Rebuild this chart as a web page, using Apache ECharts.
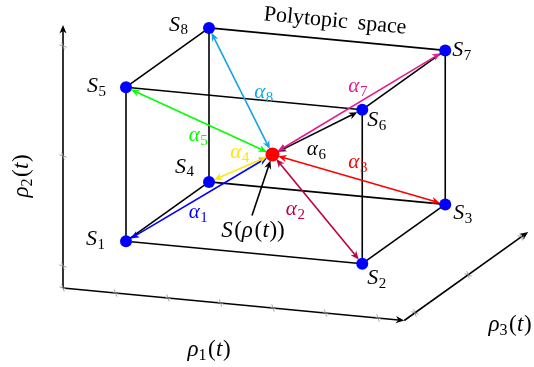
<!DOCTYPE html>
<html>
<head>
<meta charset="utf-8">
<script src="https://cdn.jsdelivr.net/npm/echarts@6/dist/echarts.min.js"></script>
<style>
  html, body { margin: 0; padding: 0; background: #ffffff; }
  #chart { width: 534px; height: 367px; }
</style>
</head>
<body>
<div id="chart"></div>
<script>
// ---- Polytope (box) in the scheduling-parameter space (rho1, rho2, rho3) ----
const vertexNames = ['1', '2', '3', '4', '5', '6', '7', '8'];
const vertices = [
  [1.2, 0.48, 0.00],  // S1
  [5.7, 0.48, 0.00],  // S2
  [5.7, 0.48, 1.56],  // S3
  [1.2, 0.48, 1.56],  // S4
  [1.2, 1.88, 0.00],  // S5
  [5.7, 1.88, 0.00],  // S6
  [5.7, 1.88, 1.56],  // S7
  [1.2, 1.88, 1.56]   // S8
];
const edges = [[0, 1], [1, 2], [2, 3], [3, 0], [4, 5], [5, 6], [6, 7], [7, 4], [0, 4], [1, 5], [2, 6], [3, 7]];
// current scheduling point S(rho(t)) inside the polytope
const operatingPoint = [3.2, 1.09, 0.78];
// barycentric weights alpha_i, one per vertex
const alphaNames = ['1', '2', '3', '4', '5', '6', '7', '8'];

// ---- Coordinate axes ----
const rho1Ticks = [0, 1, 2, 3, 4, 5, 6];
const rho2Ticks = [0.2, 1.2, 2.2];
const rho3Ticks = [0.2, 1.2, 2.2];
const rho1AxisEnd = 6.5;
const rho2AxisEnd = 2.39;
const rho3AxisEnd = 2.33;

// ---- Styling ----
const alphaColors = ['#0000ff', '#bf0040', '#ff0000', '#ffe600', '#00ff00', '#000000', '#e6198f', '#14a6e4'];
// vertex label placement relative to its dot: dx, dy, alignment
const vertexLabelPos = [
  [-21, -2, 'right'], [5, 15, 'left'], [8, 9, 'left'], [-15, -15, 'right'],
  [-20, -1, 'right'], [5, 11, 'left'], [7, 0, 'left'], [-21, -3, 'right']
];
// alpha label placement relative to the arrow midpoint
const alphaLabelPos = [[-1, 15], [-22, 0], [-1, -17], [-1, -16], [-1, 15], [-1, 17], [-1, -16], [23, 1]];

// oblique projection of (rho1, rho2, rho3) onto the drawing sheet
const ORIGIN = [63, 288];
const E1 = [52.5, 5], E2 = [0, -110], E3 = [53.2, -38];
function project(p) {
  return [
    ORIGIN[0] + p[0] * E1[0] + p[1] * E2[0] + p[2] * E3[0],
    ORIGIN[1] + p[0] * E1[1] + p[1] * E2[1] + p[2] * E3[1]
  ];
}

const FAMILY = 'Liberation Serif';
const measureCtx = document.createElement('canvas').getContext('2d');
function pieceFont(p) { return (p.it ? 'italic ' : 'normal ') + p.size + 'px "Liberation Serif"'; }

// lay out a short math expression (pieces with italic / subscript) as
// stand-alone text elements, optionally turned by `rot` around the anchor
function mathTexts(pieces, x, y, align, color, rot) {
  rot = rot || 0;
  const cs = Math.cos(rot), sn = Math.sin(rot);
  const widths = pieces.map(p => { measureCtx.font = pieceFont(p); return measureCtx.measureText(p.t).width; });
  const total = widths.reduce((a, b) => a + b, 0) + pieces.reduce((a, p) => a + (p.k || 0), 0);
  let cx = align === 'left' ? 0 : align === 'right' ? -total : -total / 2;
  return pieces.map((p, i) => {
    cx += p.k || 0;
    const ly = p.dy || 0;
    const el = {
      type: 'text',
      x: x + cx * cs + ly * sn,
      y: y - cx * sn + ly * cs,
      rotation: rot,
      z: 100,
      style: {
        text: p.t, fontFamily: FAMILY, fontSize: p.size, fontStyle: p.it ? 'italic' : 'normal',
        fill: color, textAlign: 'left', textVerticalAlign: 'middle'
      }
    };
    cx += widths[i];
    return el;
  });
}
function sym(letter, sub, size, subSize) {
  return [{ t: letter, it: true, size: size }, { t: sub, size: subSize, dy: 5.5, k: 0.5 }];
}
function rhoOfT(n) {
  return [{ t: 'ρ', it: true, size: 23 }, { t: n, size: 16, dy: 6 }, { t: '(', size: 23, k: 1.5 },
          { t: 't', it: true, size: 23, k: 0.5 }, { t: ')', size: 23, k: 0.5 }];
}

function unit(a, b) { const dx = b[0] - a[0], dy = b[1] - a[1], L = Math.hypot(dx, dy); return [dx / L, dy / L]; }
// filled arrow tip; u points towards the tip
function arrowTip(tip, u, color) {
  const len = 8.5, hw = 3.6, n = [-u[1], u[0]];
  const back = [tip[0] - u[0] * len, tip[1] - u[1] * len];
  const notch = [tip[0] - u[0] * len * 0.7, tip[1] - u[1] * len * 0.7];
  return {
    el: { type: 'polygon', shape: { points: [tip, [back[0] + n[0] * hw, back[1] + n[1] * hw], notch, [back[0] - n[0] * hw, back[1] - n[1] * hw]] }, style: { fill: color } },
    notch: notch
  };
}
function segEnds(api) {
  return [api.coord([api.value(0), api.value(1)]), api.coord([api.value(2), api.value(3)])];
}

const V = vertices.map(project);
const C = project(operatingPoint);

const axisSegments = [
  [[0, 0, 0], [rho1AxisEnd, 0, 0]],
  [[0, 0, 0], [0, rho2AxisEnd, 0]],
  [[rho1AxisEnd, 0, 0], [rho1AxisEnd, 0, rho3AxisEnd]]
].map(s => project(s[0]).concat(project(s[1])));

const tickPoints = []
  .concat(rho1Ticks.map(t => project([t, 0, 0])))
  .concat(rho2Ticks.map(t => project([0, t, 0])))
  .concat(rho3Ticks.map(t => project([rho1AxisEnd, 0, t])));

const edgeData = edges.map(e => V[e[0]].concat(V[e[1]]));
const alphaData = V.map(v => C.concat(v));

// text labels: anchor point + pieces + alignment + colour
const labels = [];
V.forEach((v, i) => {
  const o = vertexLabelPos[i];
  labels.push({ at: [v[0] + o[0], v[1] + o[1]], pieces: sym('S', vertexNames[i], 22, 15), align: o[2], color: '#000' });
});
V.forEach((v, i) => {
  const o = alphaLabelPos[i];
  const m = [(v[0] + C[0]) / 2 + o[0], (v[1] + C[1]) / 2 + o[1]];
  labels.push({ at: m, pieces: sym('α', alphaNames[i], 21, 15), align: 'center', color: alphaColors[i] });
});
labels.push({ at: [C[0] - 19.5, C[1] + 76], align: 'center', color: '#000', pieces: [
  { t: 'S', it: true, size: 23 }, { t: '(', size: 23, k: 1.5 }, { t: 'ρ', it: true, size: 23 }, { t: '(', size: 23, k: 1.5 },
  { t: 't', it: true, size: 23, k: 0.5 }, { t: ')', size: 23, k: 0.5 }, { t: ')', size: 23 }] });
labels.push({ at: [209, 350], align: 'center', color: '#000', pieces: rhoOfT('1') });
labels.push({ at: [22, 176], align: 'center', color: '#000', pieces: rhoOfT('2'), rot: Math.PI / 2 });
labels.push({ at: [510, 325], align: 'center', color: '#000', pieces: rhoOfT('3') });
// caption along the top edge S8-S7
const topEdgeAngle = Math.atan2(V[6][1] - V[7][1], V[6][0] - V[7][0]);
labels.push({ at: [(V[6][0] + V[7][0]) / 2 + 8, (V[6][1] + V[7][1]) / 2 - 18], align: 'center', color: '#000',
  pieces: [{ t: 'Polytopic', size: 22 }, { t: 'space', size: 22, k: 10 }], rot: -topEdgeAngle });

const LW = 1.6;
const option = {
  animation: false,
  backgroundColor: '#ffffff',
  textStyle: { fontFamily: FAMILY },
  grid: { left: 0, right: 0, top: 0, bottom: 0 },
  xAxis: { type: 'value', min: 0, max: 534, show: false },
  yAxis: { type: 'value', min: 0, max: 367, inverse: true, show: false },
  series: [
    { // coordinate axes with arrow tips
      type: 'custom', z: 2, silent: true, data: axisSegments,
      renderItem: function (params, api) {
        const [a, b] = segEnds(api);
        const h = arrowTip(b, unit(a, b), '#000');
        return { type: 'group', children: [
          { type: 'line', shape: { x1: a[0], y1: a[1], x2: h.notch[0], y2: h.notch[1] }, style: { stroke: '#000', lineWidth: LW } },
          h.el] };
      }
    },
    { // tick marks
      type: 'custom', z: 3, silent: true, data: tickPoints,
      renderItem: function (params, api) {
        const p = api.coord([api.value(0), api.value(1)]);
        const s = 3.6;
        return { type: 'group', children: [
          { type: 'line', shape: { x1: p[0] - s, y1: p[1] - s * 0.35, x2: p[0] + s, y2: p[1] + s * 0.35 }, style: { stroke: '#8c8c8c', lineWidth: 0.8 } },
          { type: 'line', shape: { x1: p[0] - s * 0.35, y1: p[1] - s, x2: p[0] + s * 0.35, y2: p[1] + s }, style: { stroke: '#8c8c8c', lineWidth: 0.8 } }] };
      }
    },
    { // polytope edges
      type: 'custom', z: 4, silent: true, data: edgeData,
      renderItem: function (params, api) {
        const [a, b] = segEnds(api);
        return { type: 'line', shape: { x1: a[0], y1: a[1], x2: b[0], y2: b[1] }, style: { stroke: '#000', lineWidth: LW } };
      }
    },
    { // alpha arrows between S(rho(t)) and each vertex
      type: 'custom', z: 5, silent: true, data: alphaData,
      renderItem: function (params, api) {
        const [c, v] = segEnds(api);
        const col = alphaColors[params.dataIndex];
        const u = unit(c, v);
        const tipV = [v[0] - u[0] * 5.5, v[1] - u[1] * 5.5];
        const tipC = [c[0] + u[0] * 6, c[1] + u[1] * 6];
        const h1 = arrowTip(tipV, u, col);
        const h2 = arrowTip(tipC, [-u[0], -u[1]], col);
        return { type: 'group', children: [
          { type: 'line', shape: { x1: h2.notch[0], y1: h2.notch[1], x2: h1.notch[0], y2: h1.notch[1] }, style: { stroke: col, lineWidth: LW } },
          h1.el, h2.el] };
      }
    },
    { // pointer from the S(rho(t)) caption to the operating point
      type: 'custom', z: 5, silent: true, data: [[C[0] - 20.5, C[1] + 61, C[0], C[1]]],
      renderItem: function (params, api) {
        const [a, b] = segEnds(api);
        const u = unit(a, b);
        const tip = [b[0] - u[0] * 6.5, b[1] - u[1] * 6.5];
        const h = arrowTip(tip, u, '#000');
        return { type: 'group', children: [
          { type: 'line', shape: { x1: a[0], y1: a[1], x2: h.notch[0], y2: h.notch[1] }, style: { stroke: '#000', lineWidth: LW } },
          h.el] };
      }
    },
    { // vertices
      type: 'scatter', z: 6, silent: true, data: V, symbol: 'circle', symbolSize: 12,
      itemStyle: { color: '#0000ff', opacity: 1 }
    },
    { // operating point
      type: 'scatter', z: 7, silent: true, data: [C], symbol: 'circle', symbolSize: 14,
      itemStyle: { color: '#ff0000', opacity: 1 }
    }
  ]
};

const chart = echarts.init(document.getElementById('chart'), null, { renderer: 'canvas' });
chart.setOption(option);
// text is placed through the same cartesian scales as the marks
let textEls = [];
labels.forEach(l => {
  const p = chart.convertToPixel({ gridIndex: 0 }, l.at);
  textEls = textEls.concat(mathTexts(l.pieces, p[0], p[1], l.align, l.color, l.rot));
});
chart.setOption({ graphic: { elements: textEls } });
</script>
</body>
</html>
